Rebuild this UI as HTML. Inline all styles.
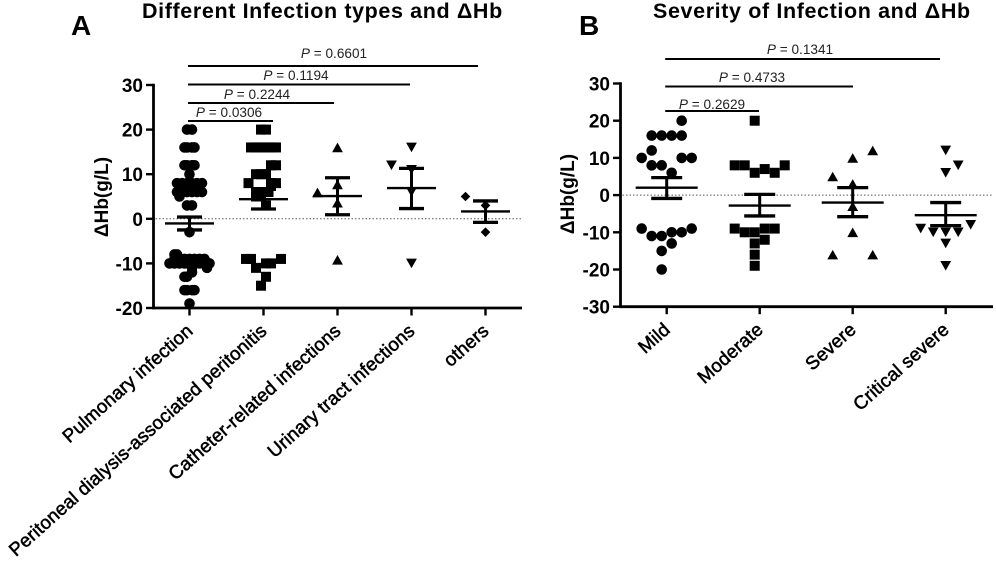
<!DOCTYPE html>
<html>
<head>
<meta charset="utf-8">
<title>Infection types and ΔHb</title>
<style>
html,body{margin:0;padding:0;background:#fff;width:996px;height:566px;overflow:hidden}
svg{display:block;font-family:"Liberation Sans",Arial,sans-serif}
.title{font-weight:bold;font-size:21.5px;letter-spacing:.62px}
.letter{font-weight:bold;font-size:28px}
.tick{font-weight:bold;font-size:19px;text-anchor:end}
.ytitle{font-weight:bold;font-size:19px;text-anchor:middle}
.cat{font-size:18.7px;letter-spacing:.15px;text-anchor:end;stroke:#000;stroke-width:.55px}
.p{font-size:13.6px;text-anchor:middle;fill:#222}
</style>
</head>
<body>
<svg id="chart" width="996" height="566" viewBox="0 0 996 566" xmlns="http://www.w3.org/2000/svg">
  <defs><filter id="soft" x="-5%" y="-5%" width="110%" height="110%"><feGaussianBlur stdDeviation="0.35"/></filter></defs>
  <g id="root" filter="url(#soft)">
    <text class="title" x="142" y="18">Different Infection types and ΔHb</text>
    <text class="title" x="653" y="18">Severity of Infection and ΔHb</text>
    <text class="letter" x="71" y="35">A</text>
    <text class="letter" x="579" y="35">B</text>
    <text class="ytitle" transform="translate(108,197) rotate(-90)">ΔHb(g/L)</text>
    <text class="ytitle" transform="translate(574,194) rotate(-90)">ΔHb(g/L)</text>
  </g>
</svg>
<script>
// ---------- Panel A data ----------
const categoriesA = ["Pulmonary infection", "Peritoneal dialysis-associated peritonitis", "Catheter-related infections", "Urinary tract infections", "others"];
const ticksA = [30, 20, 10, 0, -10, -20];
const valuesPulmonary = [20,20, 16,16,16,16, 12,12,12,12, 10, 8,8,8,8,8,8, 7,7,7,7, 6,6,6,6,6,6, 5, 3,3, -3, -8,-8, -9,-9,-9,-9,-9,-9,-9, -10,-10,-10,-10,-10,-10,-10,-10,-10, -11,-11, -12, -13,-13, -16,-16,-16,-16, -19];
const swarmPulmonary = [-1,1, -2,-1,1,2, -2,-1,1,2, 0, -5,-3,-1,1,3,5, -3,-1,1,3, -5,-3,-1,1,3,5, -4, -1,1, 0, -6,-5, -6,-4,-2,0,2,4,6, -8,-6,-4,-2,0,2,4,6,8, 7,1, 1, -2,-1, -2,-1,1,2, 0];
const valuesPeritoneal = [20,20, 16,16,16,16,16,16, 12,12, 10,10,10, 8,8,8, 6,6,6,6, 5,5, 3, -9,-9,-9, -10,-10, -11, -13, -15];
const swarmPeritoneal = [-1,1, -5,-3,-1,1,3,5, 3,5, -3,-1,1, -6,3,5, -3,-1,1,2, -3,-1, 1, -7,-5,7, 1,3, -3, 1, -1];
const valuesCatheter = [16, 7.7, 5.9, 3.6, -9.2];
const swarmCatheter = [0, 0, -8, 0, 0];
const valuesUrinary = [16, 12, 11, 6, -10];
const swarmUrinary = [0, -8, 0, 0, 0];
const valuesOthers = [5, 3, -3];
const swarmOthers = [-8, 0, 0];
const meansA = [-1.05, 4.4, 5.1, 6.9, 1.65];
const upperA = [0.4, 6.6, 9.2, 11.3, 4];
const lowerA = [-2.5, 2.2, 0.9, 2.3, -0.8];
const pLabelsA = ["P = 0.6601", "P = 0.1194", "P = 0.2244", "P = 0.0306"];

// ---------- Panel B data ----------
const categoriesB = ["Mild", "Moderate", "Severe", "Critical severe"];
const ticksB = [30, 20, 10, 0, -10, -20, -30];
const valuesMild = [20, 16,16,16,16, 12, 10,10,10, 8,8, 6, -9,-9, -10,-10, -11,-11, -13, -15, -20];
const swarmMild = [6, -6,-2,2,6, -6, -10,6,10, -6,-2, 2, -10,10, 2,6, -6,-2, 2, -2, -2];
const valuesModerate = [20, 8,8,8, 7, 6,6, -9,-9,-9, -10,-10, -12, -13, -16, -19];
const swarmModerate = [-2, -10,-6,10, 2, -2,6, -10,2,6, -6,-2, 2, -2, -2, -2];
const valuesSevere = [12, 10, 5, 3, -3, -10, -16, -16];
const swarmSevere = [8, 0, -8, 0, 0, 0, -8, 8];
const valuesCritical = [12, 8, 6, -8, -9, -10, -10, -10, -13, -19];
const swarmCritical = [0, 5, 0, 10, -10, -5, 0, 5, 0, 0];
const meansB = [2, -2.8, -2, -5.4];
const upperB = [4.7, 0.2, 2, -2];
const lowerB = [-0.9, -5.6, -5.8, -8.2];
const pLabelsB = ["P = 0.1341", "P = 0.4733", "P = 0.2629"];

// ---------- Helpers ----------
const NS = "http://www.w3.org/2000/svg";
const root = document.getElementById("root");
const SWARM_UNIT = 2.5;

function linear(d0, d1, r0, r1) { return v => r0 + (v - d0) * (r1 - r0) / (d1 - d0); }
function mk(tag, attrs, parent) {
  const el = document.createElementNS(NS, tag);
  for (const k in attrs) el.setAttribute(k, attrs[k]);
  (parent || root).appendChild(el);
  return el;
}
function seg(x1, y1, x2, y2, w, name) {
  const el = mk("line", {x1, y1, x2, y2, stroke: "#000", "stroke-width": w});
  
  
  return el;
}
function marker(shape, x, y, name) {
  let el;
  if (shape === "circle") el = mk("circle", {cx: x, cy: y, r: 5.3});
  else if (shape === "square") el = mk("rect", {x: x - 5, y: y - 5, width: 10, height: 10});
  else if (shape === "up") el = mk("polygon", {points: [x - 5.4, y + 4.8, x + 5.4, y + 4.8, x, y - 4.8].join(" ")});
  else if (shape === "down") el = mk("polygon", {points: [x - 5.4, y - 4.8, x + 5.4, y - 4.8, x, y + 4.8].join(" ")});
  else el = mk("polygon", {points: [x - 4.8, y, x, y - 4.8, x + 4.8, y, x, y + 4.8].join(" ")});
  
  
  return el;
}
function drawAxes(cfg) {
  const last = cfg.ticks[cfg.ticks.length - 1];
  seg(cfg.axisX, cfg.y(cfg.ticks[0]) - 1.2, cfg.axisX, cfg.y(last) + 1.2, 2.8, cfg.id + "-y-axis");
  seg(cfg.axisX - 1, cfg.y(last), cfg.axisEnd, cfg.y(last), 2.8, cfg.id + "-x-axis");
  const zero = mk("line", {x1: cfg.axisX + 2, y1: cfg.y(0), x2: cfg.axisEnd, y2: cfg.y(0), stroke: "#555", "stroke-width": 1, "stroke-dasharray": "1.5 2"});
  
  
  cfg.ticks.forEach(t => {
    seg(cfg.axisX - 7.5, cfg.y(t), cfg.axisX, cfg.y(t), 2.4, cfg.id + "-y-tick");
    const label = mk("text", {class: "tick", x: cfg.axisX - 10.5, y: cfg.y(t) + 7});
    label.textContent = String(t);
    
    
  });
  const base = cfg.y(last);
  cfg.categories.forEach((c, i) => {
    const x = cfg.x(i);
    seg(x, base, x, base + 7.5, 2.4, cfg.id + "-x-tick");
    const label = mk("text", {class: "cat", transform: "translate(" + (x + 4.5) + "," + (base + 24.5) + ") rotate(-41.7)"});
    label.textContent = c;
    
    
  });
}
function drawGroup(cfg, i, shape, values, swarm) {
  values.forEach((v, j) => {
    marker(shape, cfg.x(i) + swarm[j] * SWARM_UNIT, cfg.y(v), cfg.id + "-point-" + shape);
  });
  const x = cfg.x(i);
  seg(x - cfg.meanHalf, cfg.y(cfg.means[i]), x + cfg.meanHalf, cfg.y(cfg.means[i]), 2.4, cfg.id + "-mean-line");
  seg(x, cfg.y(cfg.upper[i]), x, cfg.y(cfg.lower[i]), 3, cfg.id + "-error-bar");
  seg(x - cfg.capHalf, cfg.y(cfg.upper[i]), x + cfg.capHalf, cfg.y(cfg.upper[i]), 3.3, cfg.id + "-error-cap-upper");
  seg(x - cfg.capHalf, cfg.y(cfg.lower[i]), x + cfg.capHalf, cfg.y(cfg.lower[i]), 3.3, cfg.id + "-error-cap-lower");
}
function drawBracket(cfg, x2, yLine, textX, textY, txt) {
  seg(cfg.x(0) - 1.5, yLine, x2, yLine, 2, cfg.id + "-significance-bracket");
  const t = mk("text", {class: "p", x: textX, y: textY});
  const i = mk("tspan", {"font-style": "italic"}, t);
  i.textContent = txt.slice(0, 1);
  const r = mk("tspan", {}, t);
  r.textContent = txt.slice(1);
  
  
}

// ---------- Panel A ----------
const panelA = {
  id: "panel-a", ticks: ticksA, categories: categoriesA, axisX: 153.5, axisEnd: 522,
  y: linear(-20, 30, 308, 85), x: i => 189.5 + i * 74,
  means: meansA, upper: upperA, lower: lowerA, meanHalf: 24.5, capHalf: 12.5
};
drawAxes(panelA);
drawGroup(panelA, 0, "circle", valuesPulmonary, swarmPulmonary);
drawGroup(panelA, 1, "square", valuesPeritoneal, swarmPeritoneal);
drawGroup(panelA, 2, "up", valuesCatheter, swarmCatheter);
drawGroup(panelA, 3, "down", valuesUrinary, swarmUrinary);
drawGroup(panelA, 4, "diamond", valuesOthers, swarmOthers);
drawBracket(panelA, 478, 66, 334, 58, pLabelsA[0]);
drawBracket(panelA, 410, 84.5, 296, 80, pLabelsA[1]);
drawBracket(panelA, 334, 103, 257, 99, pLabelsA[2]);
drawBracket(panelA, 273, 121, 229, 117, pLabelsA[3]);

// ---------- Panel B ----------
const panelB = {
  id: "panel-b", ticks: ticksB, categories: categoriesB, axisX: 620.5, axisEnd: 993,
  y: linear(-30, 30, 306.7, 83.5), x: i => 666.7 + i * 93,
  means: meansB, upper: upperB, lower: lowerB, meanHalf: 31, capHalf: 15.5
};
drawAxes(panelB);
drawGroup(panelB, 0, "circle", valuesMild, swarmMild);
drawGroup(panelB, 1, "square", valuesModerate, swarmModerate);
drawGroup(panelB, 2, "up", valuesSevere, swarmSevere);
drawGroup(panelB, 3, "down", valuesCritical, swarmCritical);
drawBracket(panelB, 940, 59, 800, 54, pLabelsB[0]);
drawBracket(panelB, 853, 86.5, 752, 82, pLabelsB[1]);
drawBracket(panelB, 759, 111, 712, 109, pLabelsB[2]);
</script>
</body>
</html>
